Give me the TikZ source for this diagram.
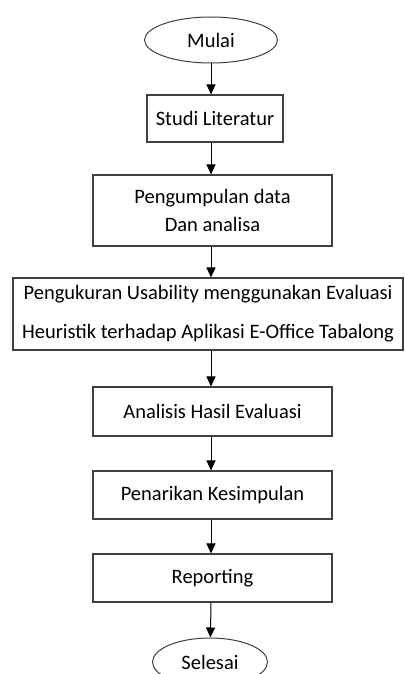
\documentclass[tikz,border=0pt]{standalone}
\usepackage{fontspec}
\setmainfont{Carlito}
\usetikzlibrary{arrows.meta, shapes.geometric}

\begin{document}
\begin{tikzpicture}[x=1pt, y=-1pt,
    font=\fontsize{20.5}{28}\selectfont,
    stepbox/.style={rectangle, draw=black!75, line width=1.1pt, align=center, inner sep=0pt},
    terminal/.style={ellipse, draw=black!75, line width=1pt, inner sep=0pt},
    arr/.style={draw=black, line width=1pt, -{Triangle[width=9pt, length=10pt]}}]
            \useasboundingbox (0,0) rectangle (404,674);
            \node[terminal, minimum width=133, minimum height=46] (mulai) at (211,40) {Mulai};
            \node[stepbox, minimum width=136, minimum height=47] (studi) at (215,118.5) {Studi Literatur};
            \node[stepbox, minimum width=239, minimum height=71] (kumpul) at (212.5,210.5) {Pengumpulan data\\Dan analisa};
            \node[stepbox, minimum width=390, minimum height=72, font=\fontsize{20.5}{39}\selectfont] (ukur) at (208,314) {Pengukuran Usability menggunakan Evaluasi\\Heuristik terhadap Aplikasi E-Office Tabalong};
            \node[stepbox, minimum width=239, minimum height=49] (hasil) at (212.5,411.5) {Analisis Hasil Evaluasi};
            \node[stepbox, minimum width=239, minimum height=48] (tarik) at (212.5,495) {Penarikan Kesimpulan};
            \node[stepbox, minimum width=239, minimum height=48] (report) at (212.5,578) {Reporting};
            \node[terminal, minimum width=115, minimum height=48] (selesai) at (210,662) {Selesai};
            \draw[arr] (mulai) -- (mulai |- studi.north);
            \draw[arr] (mulai |- studi.south) -- (mulai |- kumpul.north);
            \draw[arr] (mulai |- kumpul.south) -- (mulai |- ukur.north);
            \draw[arr] (mulai |- ukur.south) -- (mulai |- hasil.north);
            \draw[arr] (mulai |- hasil.south) -- (mulai |- tarik.north);
            \draw[arr] (mulai |- tarik.south) -- (mulai |- report.north);
            \draw[arr] (mulai |- report.south) -- (selesai);
        \end{tikzpicture}
\end{document}
